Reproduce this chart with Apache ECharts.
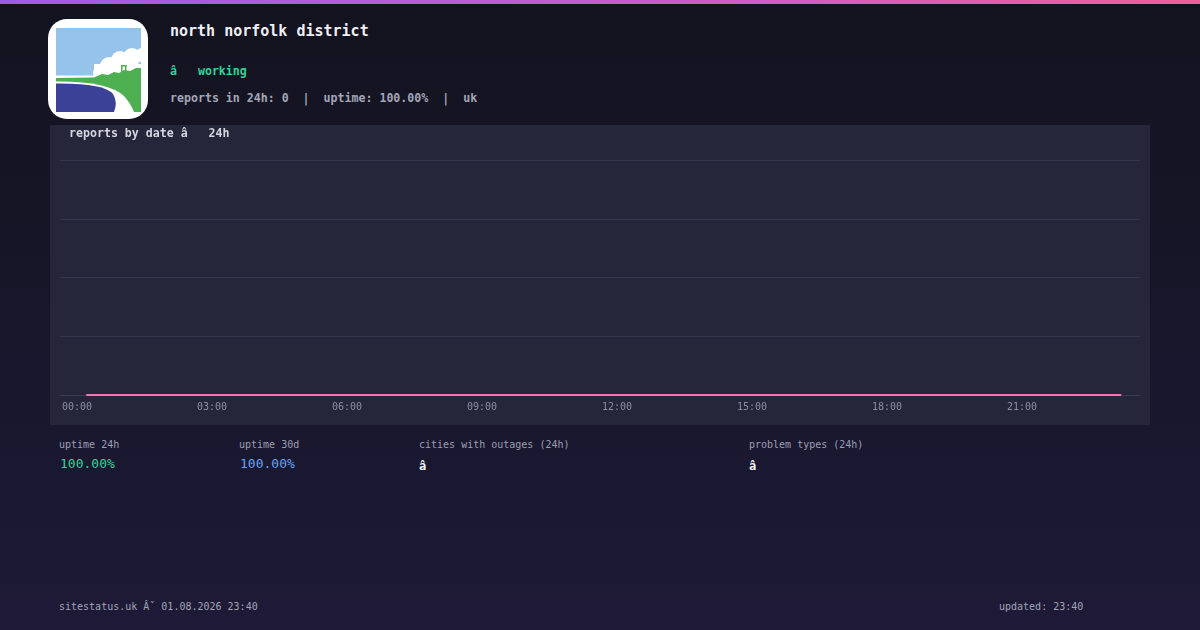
<!DOCTYPE html>
<html>
<head>
<meta charset="utf-8">
<script src="https://cdn.jsdelivr.net/npm/echarts@6/dist/echarts.min.js"></script>
<style>
  html, body { margin: 0; padding: 0; }
  body {
    width: 1200px; height: 630px; position: relative; overflow: hidden;
    background: linear-gradient(180deg, #13131f 0%, #17162a 50%, #1e1a37 100%);
    font-family: "DejaVu Sans Mono", "Liberation Mono", monospace;
  }
  .bar { position: absolute; left: 0; top: 0; width: 1200px; height: 4px;
    background: linear-gradient(90deg, #9b5de5 0%, #c45ccf 50%, #ef5f9a 100%); }
  .t { position: absolute; white-space: pre; line-height: 1; }
  #logo { position: absolute; left: 48px; top: 19px; width: 100px; height: 100px;
    background: #ffffff; border-radius: 19px; overflow: hidden; }
  #logo svg { position: absolute; left: 8px; top: 9px; }
  #chart { position: absolute; left: 50px; top: 125px; width: 1100px; height: 300px; background: #252639; }
</style>
</head>
<body>
<div class="bar"></div>
<div id="logo">
  <svg width="85" height="84" viewBox="0 0 85 84">
    <rect x="0" y="0" width="85" height="84" fill="#95c3e9"/>
    <!-- clouds -->
    <circle cx="44" cy="45" r="7" fill="#fff"/>
    <circle cx="53" cy="38" r="9" fill="#fff"/>
    <circle cx="64" cy="32" r="9" fill="#fff"/>
    <circle cx="76" cy="29" r="9" fill="#fff"/>
    <circle cx="86" cy="27" r="7" fill="#fff"/>
    <rect x="38" y="36" width="47" height="14" fill="#fff"/>
    <rect x="0" y="47.5" width="45" height="2.5" fill="#fff"/>
    <!-- land -->
    <path d="M0,50 L38,49.5 L46,46 L52,47 L58,44 L63,45 L68,42 L74,43 L80,40 L85,40 L85,84 L0,84 Z" fill="#4caf50"/>
    <rect x="65" y="37" width="1.5" height="7" fill="#4caf50"/>
    <rect x="69" y="37" width="1.5" height="7" fill="#4caf50"/>
    <rect x="65" y="37" width="5.5" height="1.5" fill="#4caf50"/>
    <!-- road -->
    <path d="M0,53.5 Q52,53 68,68 Q75,76 78,84 L0,84 Z" fill="#fff"/>
    <!-- water -->
    <path d="M0,55.5 Q48,55 57,66 Q62,74 58,84 L0,84 Z" fill="#3b4197"/>
  </svg>
</div>

<div class="t" style="left:170px;top:23.5px;font-size:15px;font-weight:bold;color:#f0f0f6;">north norfolk district</div>
<div class="t" style="left:170px;top:65.5px;font-size:11.6px;font-weight:bold;color:#34d399;">â   working</div>
<div class="t" style="left:170px;top:93px;font-size:11.6px;font-weight:bold;color:#a4a6b8;">reports in 24h: 0  |  uptime: 100.00%  |  uk</div>

<div id="chart"></div>

<div class="t" style="left:59px;top:440px;font-size:10px;color:#9c9eb1;">uptime 24h</div>
<div class="t" style="left:60px;top:457px;font-size:13px;color:#34d399;">100.00%</div>
<div class="t" style="left:239px;top:440px;font-size:10px;color:#9c9eb1;">uptime 30d</div>
<div class="t" style="left:240px;top:457px;font-size:13px;color:#60a5fa;">100.00%</div>
<div class="t" style="left:419px;top:440px;font-size:10px;color:#9c9eb1;">cities with outages (24h)</div>
<div class="t" style="left:419px;top:460px;font-size:12px;font-weight:bold;color:#f4f4f8;">â</div>
<div class="t" style="left:749px;top:440px;font-size:10px;color:#9c9eb1;">problem types (24h)</div>
<div class="t" style="left:749px;top:460px;font-size:12px;font-weight:bold;color:#f4f4f8;">â</div>

<div class="t" style="left:59px;top:602px;font-size:10px;color:#a2a4b6;">sitestatus.uk Âˇ 01.08.2026 23:40</div>
<div class="t" style="left:999px;top:602px;font-size:10px;color:#a2a4b6;">updated: 23:40</div>

<script>
// ---- data ----
var chartTitle = 'reports by date â   24h';
var reportTimes = ['00:35','01:35','02:35','03:35','04:35','05:35','06:35','07:35',
                   '08:35','09:35','10:35','11:35','12:35','13:35','14:35','15:35',
                   '16:35','17:35','18:35','19:35','20:35','21:35','22:35','23:35'];
var reportCounts = [0,0,0,0,0,0,0,0,0,0,0,0,0,0,0,0,0,0,0,0,0,0,0,0];
var xTickHours = [0, 3, 6, 9, 12, 15, 18, 21];

function toHours(s) { var p = s.split(':'); return +p[0] + (+p[1]) / 60; }
function pad(n) { return (n < 10 ? '0' : '') + n; }

var seriesData = reportTimes.map(function (t, i) { return [toHours(t), reportCounts[i]]; });

var chart = echarts.init(document.getElementById('chart'), null, { renderer: 'canvas' });
chart.setOption({
  backgroundColor: '#252639',
  animation: false,
  title: {
    text: chartTitle, left: 19, top: 3, padding: 0,
    textStyle: { fontFamily: 'DejaVu Sans Mono', fontSize: 11.6, fontWeight: 'bold', color: '#d4d6e0' }
  },
  grid: { left: 10, right: 10, top: 35, bottom: 30, containLabel: false },
  xAxis: {
    type: 'value', min: 0, max: 24, interval: 3,
    axisLine: { show: true, lineStyle: { color: '#3a3c51', width: 1 } },
    axisTick: { show: false },
    splitLine: { show: false },
    axisLabel: {
      showMaxLabel: false, align: 'left', margin: 7, padding: [0, 0, 0, 2],
      fontFamily: 'DejaVu Sans Mono', fontSize: 10, color: '#8b8da3',
      formatter: function (v) { return xTickHours.indexOf(v) >= 0 ? pad(v) + ':00' : ''; }
    }
  },
  yAxis: {
    type: 'value', min: 0, max: 4, interval: 1,
    axisLine: { show: false }, axisTick: { show: false }, axisLabel: { show: false },
    splitLine: { lineStyle: { color: '#34364b', width: 1 } }
  },
  series: [{
    type: 'line', data: seriesData, showSymbol: false, symbol: 'none',
    lineStyle: { color: '#f472b6', width: 2 }, z: 3
  }]
});
</script>
</body>
</html>
